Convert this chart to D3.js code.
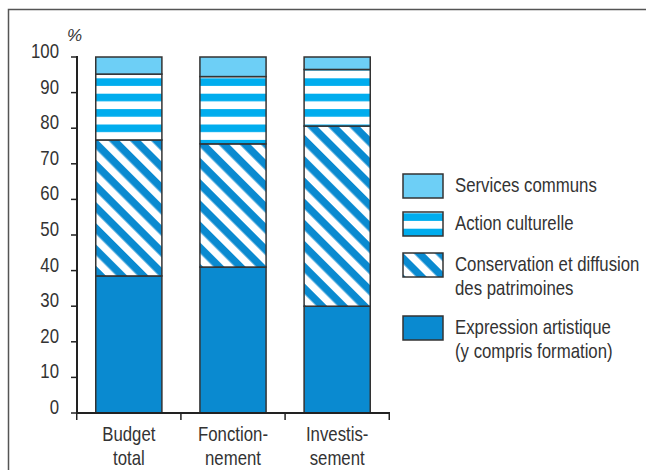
<!DOCTYPE html>
<html>
<head>
<meta charset="utf-8">
<script src="https://cdn.jsdelivr.net/npm/d3@7"></script>
<style>
  body { margin: 0; background: #fff; }
  svg text { font-family: "Liberation Sans", Arial, sans-serif; fill: #333; }
</style>
</head>
<body>
<svg width="646" height="470"></svg>
<script>
// data (% of each budget)
const categories = ['Budget total', 'Fonctionnement', 'Investissement'];
const categoryLines = [['Budget', 'total'], ['Fonction-', 'nement'], ['Investis-', 'sement']];
const expression = [38.5, 41, 30];
const conservation = [38.2, 34.6, 50.6];
const action = [18.5, 18.9, 15.9];
const services = [4.8, 5.5, 3.5];
const seriesKeys = ['expression', 'conservation', 'action', 'services'];
const legendLabels = {
  services: ['Services communs'],
  action: ['Action culturelle'],
  conservation: ['Conservation et diffusion', 'des patrimoines'],
  expression: ['Expression artistique', '(y compris formation)']
};
const yTicks = [0, 10, 20, 30, 40, 50, 60, 70, 80, 90, 100];

const rows = categories.map((c, i) => ({
  cat: c,
  expression: expression[i],
  conservation: conservation[i],
  action: action[i],
  services: services[i]
}));

const NARROW = 0.84;
const svg = d3.select('svg');

// condensed text: no narrow font installed, so squeeze horizontally
function narrow(parent, x, y, lines, size, anchor) {
  const g = parent.append('g')
    .attr('transform', `translate(${x},${y}) scale(${NARROW},1)`);
  lines.forEach((line, j) => {
    g.append('text')
      .attr('y', j * 24)
      .attr('font-size', size)
      .attr('text-anchor', anchor || 'start')
      .text(line);
  });
  return g;
}

// patterns
const defs = svg.append('defs');
const hp = defs.append('pattern')
  .attr('id', 'pat-action')
  .attr('patternUnits', 'userSpaceOnUse')
  .attr('width', 10).attr('height', 15.4)
  .attr('patternTransform', 'translate(0,1.3)');
hp.append('rect').attr('width', 10).attr('height', 15.4).attr('fill', '#fff');
hp.append('rect').attr('width', 10).attr('height', 7.6).attr('fill', '#00adee');

const dp = defs.append('pattern')
  .attr('id', 'pat-cons')
  .attr('patternUnits', 'userSpaceOnUse')
  .attr('width', 10).attr('height', 15)
  .attr('patternTransform', 'rotate(45)');
dp.append('rect').attr('width', 10).attr('height', 15).attr('fill', '#fff');
dp.append('rect').attr('width', 10).attr('height', 7.6).attr('fill', '#0a8ad0');

const fills = {
  services: '#6dcff6',
  action: 'url(#pat-action)',
  conservation: 'url(#pat-cons)',
  expression: '#0a8ad0'
};

// frame
svg.append('path')
  .attr('d', 'M8.5,470 V9.5 H646')
  .attr('fill', 'none')
  .attr('stroke', '#555')
  .attr('stroke-width', 1.5);

const y = d3.scaleLinear().domain([0, 100]).range([413, 57]);
const x = d3.scaleBand().domain(categories).range([77, 389])
  .paddingInner(0.365).paddingOuter(0.18);

const stacked = d3.stack().keys(seriesKeys)(rows);

const bars = svg.append('g');
stacked.forEach(layer => {
  bars.append('g')
    .selectAll('rect')
    .data(layer)
    .enter()
    .append('rect')
    .attr('x', d => x(d.data.cat))
    .attr('width', x.bandwidth())
    .attr('y', d => y(d[1]))
    .attr('height', d => y(d[0]) - y(d[1]))
    .attr('fill', fills[layer.key])
    .attr('stroke', '#333')
    .attr('stroke-width', 1.5);
});

// y axis
const yAxis = svg.append('g');
yAxis.append('line')
  .attr('x1', 77).attr('x2', 77)
  .attr('y1', y(0)).attr('y2', y(100) - 1)
  .attr('stroke', '#222').attr('stroke-width', 2);
yAxis.selectAll('.tick')
  .data(yTicks)
  .enter()
  .append('line')
  .attr('x1', 71).attr('x2', 77)
  .attr('y1', d => y(d)).attr('y2', d => y(d))
  .attr('stroke', '#222').attr('stroke-width', 1.5);
yTicks.forEach(t => narrow(yAxis, 59, y(t) + 1, [t], 20, 'end'));

svg.append('text')
  .attr('x', 67).attr('y', 41)
  .attr('font-size', 17)
  .attr('font-style', 'italic')
  .text('%');

// x axis
const step = x.step();
const bounds = categories.map(c => x(c) - step * x.paddingInner() / 2);
bounds.push(bounds[bounds.length - 1] + step);
const xAxis = svg.append('g');
xAxis.append('line')
  .attr('x1', 76).attr('x2', 390)
  .attr('y1', y(0)).attr('y2', y(0))
  .attr('stroke', '#222').attr('stroke-width', 2);
xAxis.selectAll('.tick')
  .data(bounds)
  .enter()
  .append('line')
  .attr('x1', d => d).attr('x2', d => d)
  .attr('y1', y(0)).attr('y2', y(0) + 7)
  .attr('stroke', '#222').attr('stroke-width', 1.5);
categories.forEach((c, i) => {
  narrow(xAxis, x(c) + x.bandwidth() / 2, 441, categoryLines[i], 20, 'middle');
});

// legend
const legendOrder = ['services', 'action', 'conservation', 'expression'];
const legendY = [174, 212, 253, 316];
const legend = svg.append('g');
legendOrder.forEach((k, i) => {
  const g = legend.append('g').attr('transform', `translate(403,${legendY[i]})`);
  g.append('rect')
    .attr('width', 40).attr('height', 24)
    .attr('fill', fills[k])
    .attr('stroke', '#333').attr('stroke-width', 1.5);
  narrow(g, 52, 18, legendLabels[k], 20);
});
</script>
</body>
</html>
